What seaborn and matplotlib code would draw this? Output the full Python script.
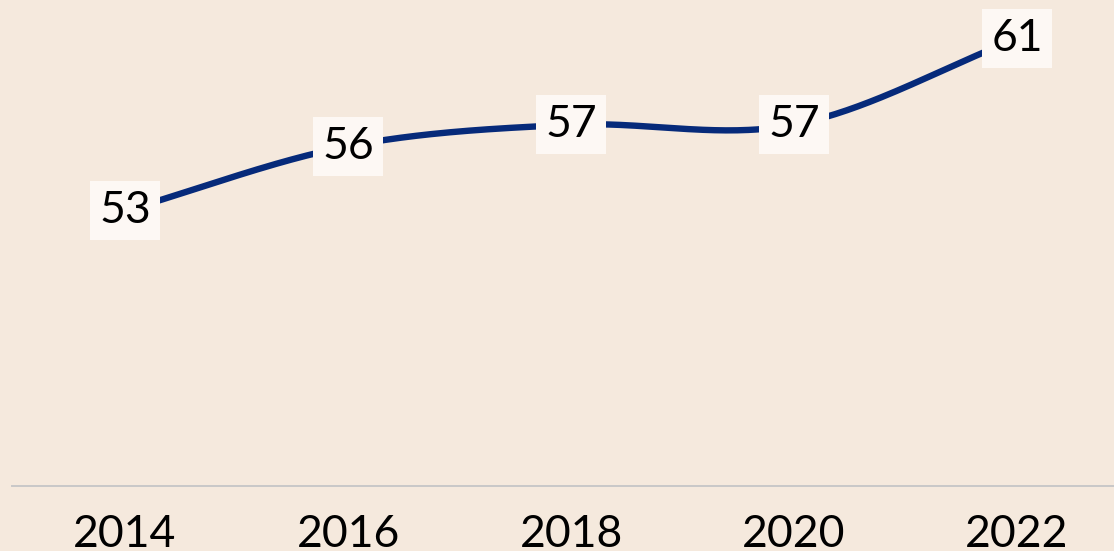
import numpy as np
import pandas as pd
import matplotlib
matplotlib.use("Agg")
import matplotlib.pyplot as plt
import seaborn as sns

# data
years = ["2014", "2016", "2018", "2020", "2022"]
values = [53, 56, 57, 57, 61]

BG = "#F5E9DD"
NAVY = "#062A7A"
BOX = "#FDF8F4"

sns.set_theme(style="white")
plt.rcParams["font.family"] = ["Lato", "DejaVu Sans"]


def catmull_rom(x, y, n=60):
    # smooth line through the points (uniform Catmull-Rom)
    x = np.asarray(x, float)
    y = np.asarray(y, float)
    px = np.concatenate([[2 * x[0] - x[1]], x, [2 * x[-1] - x[-2]]])
    py = np.concatenate([[2 * y[0] - y[1]], y, [2 * y[-1] - y[-2]]])
    out_x, out_y = [], []
    t = np.linspace(0, 1, n)
    for i in range(1, len(px) - 2):
        for p, out in ((px, out_x), (py, out_y)):
            p0, p1, p2, p3 = p[i - 1], p[i], p[i + 1], p[i + 2]
            out.extend(0.5 * ((2 * p1) + (-p0 + p2) * t
                              + (2 * p0 - 5 * p1 + 4 * p2 - p3) * t ** 2
                              + (-p0 + 3 * p1 - 3 * p2 + p3) * t ** 3))
    return np.array(out_x), np.array(out_y)


pos = np.arange(len(years))
cx, cy = catmull_rom(pos, values)
curve = pd.DataFrame({"x": cx, "y": cy})

fig = plt.figure(figsize=(11.14, 5.51), dpi=100)
fig.patch.set_facecolor(BG)
ax = fig.add_axes([12 / 1114, 65 / 551, 1102 / 1114, 486 / 551])
ax.set_facecolor(BG)

sns.lineplot(data=curve, x="x", y="y", ax=ax, color=NAVY, linewidth=4.6,
             solid_capstyle="round", sort=False)

for p, v in zip(pos, values):
    ax.text(p, v, str(v), ha="center", va="center", fontsize=32, color="black",
            bbox=dict(boxstyle="square,pad=0.2", fc=BOX, ec="none"), zorder=5)

ax.set_xlim((12 - 125) / 223, (1114 - 125) / 223)
ax.set_ylim(40.2, 62.8)
ax.set_xticks(pos)
ax.set_xticklabels(years, fontsize=32, color="black")
ax.tick_params(axis="x", length=0, pad=20)
ax.set_yticks([])
ax.set_xlabel("")
ax.set_ylabel("")
for s in ["top", "left", "right"]:
    ax.spines[s].set_visible(False)
ax.spines["bottom"].set_color("#C8C8C8")
ax.spines["bottom"].set_linewidth(1.4)

fig.savefig("out.png", dpi=100, facecolor=BG)
